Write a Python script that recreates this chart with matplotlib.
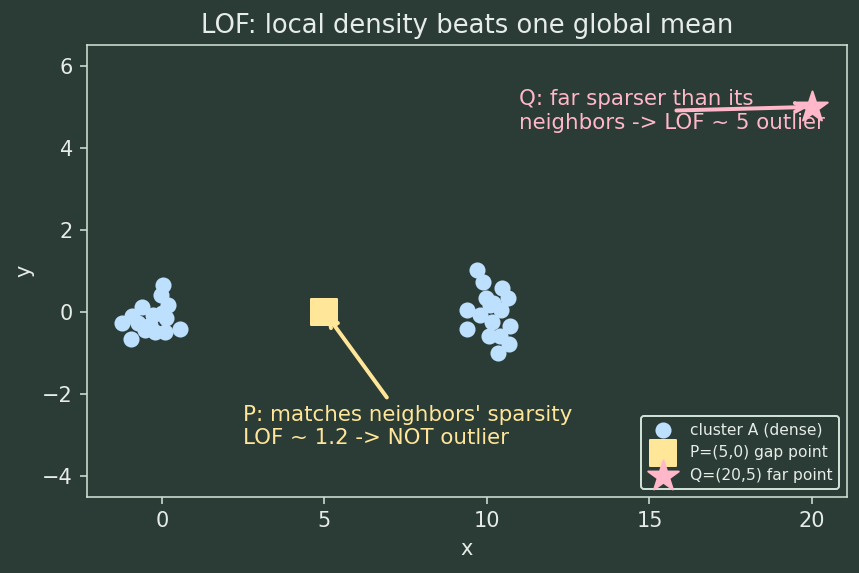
import matplotlib
matplotlib.use("Agg")
import matplotlib.pyplot as plt
import numpy as np

# cluster A (dense, near origin)
ax_x = [0.02, -0.04, 0.18, -0.62, -0.01, -0.28, -0.93, -1.24, -0.74, -0.37, 0.14, 0.55, -0.22, 0.09, -0.52, -0.95]
ax_y = [0.66, 0.41, 0.17, 0.13, -0.02, -0.07, -0.11, -0.26, -0.27, -0.32, -0.15, -0.41, -0.48, -0.48, -0.44, -0.66]
# second cluster near x=10
bx_x = [9.70, 9.89, 10.47, 10.64, 9.96, 9.39, 10.09, 10.43, 9.78, 10.14, 10.71, 9.38, 10.07, 10.40, 10.68, 10.35, 10.2]
bx_y = [1.02, 0.74, 0.58, 0.33, 0.35, 0.05, 0.17, 0.05, -0.07, -0.24, -0.34, -0.41, -0.60, -0.58, -0.79, -1.01, 0.22]
P = (5, 0)
Q = (20, 5)

BG = "#2b3b35"
FG = "#e6ece8"
SPINE = "#cfe0d6"
BLUE = "#bde0fe"
YEL = "#ffe699"
PINK = "#ffb7c9"

fig, ax = plt.subplots(figsize=(6, 4), dpi=143.33)
fig.patch.set_facecolor(BG)
ax.set_facecolor(BG)

ax.scatter(ax_x + bx_x, ax_y + bx_y, s=50, color=BLUE, label="cluster A (dense)", zorder=3)
ax.scatter([P[0]], [P[1]], s=160, marker="s", color=YEL, label="P=(5,0) gap point", zorder=3)
ax.scatter([Q[0]], [Q[1]], s=260, marker="*", color=PINK, label="Q=(20,5) far point", zorder=4)

ax.annotate("P: matches neighbors' sparsity\nLOF ~ 1.2 -> NOT outlier", xy=P, xytext=(2.5, -3.22),
            color=YEL, fontsize=10.75,
            arrowprops=dict(arrowstyle="->", color=YEL, lw=2))
ax.annotate("Q: far sparser than its\nneighbors -> LOF ~ 5 outlier", xy=Q, xytext=(11, 4.48),
            color=PINK, fontsize=10.75,
            arrowprops=dict(arrowstyle="->", color=PINK, lw=2))

ax.set_xlim(-2.31, 21.08)
ax.set_ylim(-4.51, 6.51)
ax.set_xticks([0, 5, 10, 15, 20])
ax.set_yticks([-4, -2, 0, 2, 4, 6])
ax.set_title("LOF: local density beats one global mean", color=FG, fontsize=13)
ax.set_xlabel("x", color=FG, fontsize=10.5)
ax.set_ylabel("y", color=FG, fontsize=10.5)
ax.tick_params(colors=SPINE, labelcolor=FG, labelsize=10.5)
for s in ax.spines.values():
    s.set_color(SPINE)

leg = ax.legend(loc="lower right", fontsize=7.8, facecolor=BG, edgecolor=SPINE, framealpha=1)
for t in leg.get_texts():
    t.set_color(FG)

fig.subplots_adjust(left=0.101, right=0.985, top=0.921, bottom=0.133)
fig.savefig("out.png", dpi=143.33, facecolor=BG)
